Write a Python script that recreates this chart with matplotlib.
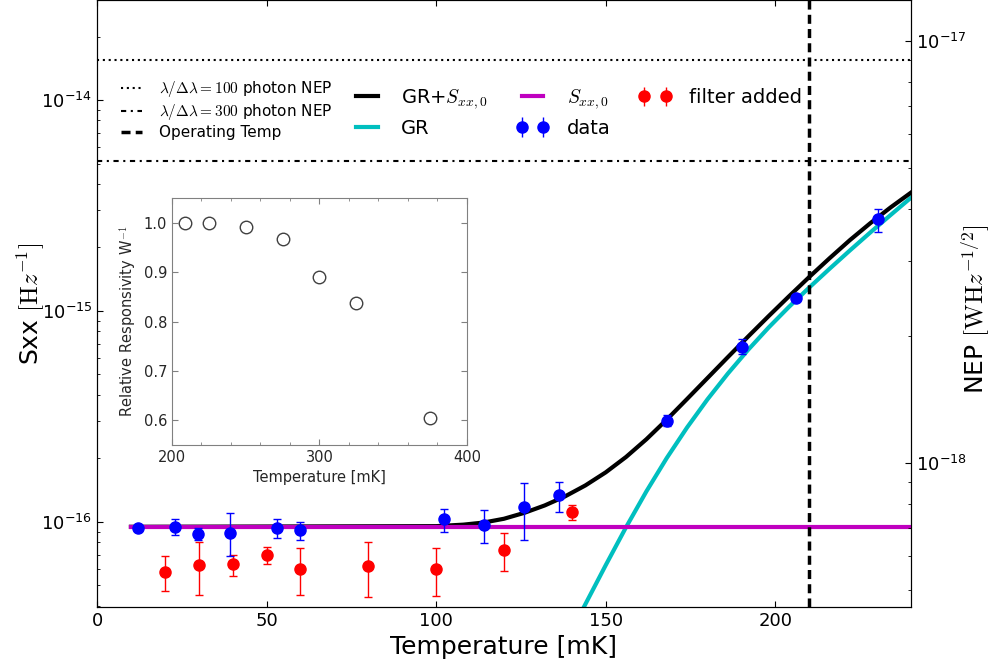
import numpy as np
import matplotlib
matplotlib.use("Agg")
import matplotlib.pyplot as plt
from matplotlib.lines import Line2D

plt.rcParams['mathtext.fontset'] = 'cm'
plt.rcParams['axes.unicode_minus'] = False
plt.rcParams['xtick.direction'] = 'in'
plt.rcParams['ytick.direction'] = 'in'
plt.rcParams['xtick.major.size'] = 4
plt.rcParams['ytick.major.size'] = 4
plt.rcParams['xtick.minor.size'] = 2
plt.rcParams['ytick.minor.size'] = 2

# measured noise, dark (blue) and with filter (red): T [mK], Sxx, lower/upper bounds
data_T = [12.0, 23.1, 29.9, 39.2, 53.1, 59.9, 102.2, 114.2, 126.0, 136.1,
          168.0, 190.2, 206.1, 230.3]
data_S = [9.33e-17, 9.5e-17, 8.8e-17, 8.9e-17, 9.33e-17, 9.16e-17, 1.03e-16,
          9.68e-17, 1.18e-16, 1.34e-16, 3.02e-16, 6.78e-16, 1.153e-15, 2.72e-15]
data_lo = [9.2e-17, 8.65e-17, 8.22e-17, 6.9e-17, 8.37e-17, 8.22e-17, 8.97e-17,
           7.92e-17, 8.22e-17, 1.11e-16, 2.85e-16, 6.25e-16, 1.12e-15, 2.38e-15]
data_hi = [9.45e-17, 1.03e-16, 9.37e-17, 1.1e-16, 1.03e-16, 1.0e-16, 1.156e-16,
           1.135e-16, 1.535e-16, 1.553e-16, 3.21e-16, 7.36e-16, 1.19e-15, 3.05e-15]

filt_T = [20, 30, 40, 50, 60, 80, 100, 120, 140]
filt_S = [5.82e-17, 6.25e-17, 6.3e-17, 6.98e-17, 6.01e-17, 6.21e-17, 6.01e-17,
          7.36e-17, 1.12e-16]
filt_lo = [4.68e-17, 4.51e-17, 5.55e-17, 6.3e-17, 4.48e-17, 4.41e-17, 4.46e-17,
           5.83e-17, 1.02e-16]
filt_hi = [6.92e-17, 8.01e-17, 7.0e-17, 7.64e-17, 7.55e-17, 8.01e-17, 7.55e-17,
           8.87e-17, 1.2e-16]

# model curves, log10(Sxx)
gr_T = [142, 144, 150, 156, 162, 168, 174, 180, 186, 192, 198, 204, 210,
        216, 222, 228, 234, 240]
gr_log = [-16.452, -16.39, -16.205, -16.025, -15.855, -15.697, -15.552, -15.419,
          -15.297, -15.184, -15.079, -14.981, -14.889, -14.800, -14.713, -14.628,
          -14.545, -14.463]
tot_T = [10, 100, 108, 114, 120, 126, 132, 138, 144, 150, 156, 162, 168, 174,
         180, 186, 192, 198, 204, 210, 216, 222, 228, 234, 240]
tot_log = [-16.023, -16.020, -16.013, -16.003, -15.985, -15.957, -15.922,
           -15.879, -15.827, -15.765, -15.692, -15.608, -15.515, -15.417, -15.318,
           -15.219, -15.121, -15.025, -14.931, -14.839, -14.750, -14.664, -14.584,
           -14.509, -14.439]
sxx0_T = [10, 240]
sxx0 = [9.47e-17, 9.47e-17]

T_operating = 210
nep_photon_100 = 9.0e-18
nep_photon_300 = 9.0e-18 / np.sqrt(3)
nep_per_sqrt_sxx = 7.24e-11

# inset: relative responsivity vs temperature
resp_T = [209, 225, 250, 275, 300, 325, 375]
resp = [1.0, 1.0, 0.991, 0.967, 0.890, 0.838, 0.605]

fig = plt.figure(figsize=(9.97, 6.65), dpi=100)
ax = fig.add_axes([0.0973, 0.0872, 0.8164, 0.9128])
ax2 = ax.twinx()

sxx_lim = (3.95e-17, 2.98e-14)
ax.set_xlim(0, 240)
ax.set_yscale('log')
ax.set_ylim(*sxx_lim)
ax2.set_yscale('log')
ax2.set_ylim(nep_per_sqrt_sxx * np.sqrt(sxx_lim[0]), nep_per_sqrt_sxx * np.sqrt(sxx_lim[1]))

ax.plot(gr_T, 10 ** np.array(gr_log), color='c', lw=3, zorder=2)
ax.plot(tot_T, 10 ** np.array(tot_log), color='k', lw=3, zorder=3)
ax.plot(sxx0_T, sxx0, color='m', lw=3, zorder=4)

def errs(s, lo, hi):
    s, lo, hi = map(np.array, (s, lo, hi))
    return [s - lo, hi - s]

ax.errorbar(filt_T, filt_S, yerr=errs(filt_S, filt_lo, filt_hi), fmt='o', color='r',
            ms=8, mec='r', elinewidth=1, capsize=3, zorder=5)
ax.errorbar(data_T, data_S, yerr=errs(data_S, data_lo, data_hi), fmt='o', color='b',
            ms=8, mec='b', elinewidth=1, capsize=3, zorder=6)

ax.axvline(T_operating, color='k', lw=2.5, ls=(0, (2.6, 1.5)), zorder=7)
ax2.axhline(nep_photon_100, color='k', lw=1.5, ls=(0, (1, 1.8)))
ax2.axhline(nep_photon_300, color='k', lw=1.5, ls=(0, (2.5, 2.2, 1, 2.2)))

ax.set_xlabel('Temperature [mK]', fontsize=18)
ax.set_ylabel(r'Sxx $[\mathrm{H}z^{-1}]$', fontsize=18)
ax.yaxis.set_label_coords(-0.062, 0.5)
ax2.set_ylabel(r'NEP $[\mathrm{WH}z^{-1/2}]$', fontsize=18)
ax2.yaxis.set_label_coords(1.06, 0.49)
ax.tick_params(which='both', top=True, labelsize=13)
ax2.tick_params(which='both', labelsize=13)
ax.set_xticks([0, 50, 100, 150, 200])

lines_a = [Line2D([], [], color='k', lw=1.5, ls=(0, (1, 1.8))),
           Line2D([], [], color='k', lw=1.5, ls=(0, (2.5, 2.2, 1, 2.2))),
           Line2D([], [], color='k', lw=2.5, ls=(0, (2.6, 1.5)))]
labels_a = [r'$\lambda/\Delta\lambda=100$ photon NEP',
            r'$\lambda/\Delta\lambda=300$ photon NEP',
            'Operating Temp']
leg_a = ax.legend(lines_a, labels_a, loc='upper left', bbox_to_anchor=(0.012, 0.892),
                  frameon=False, fontsize=11, handlelength=1.4, handletextpad=1.1,
                  labelspacing=0.2)
ax.add_artist(leg_a)

h_tot = Line2D([], [], color='k', lw=3)
h_gr = Line2D([], [], color='c', lw=3)
h_s0 = Line2D([], [], color='m', lw=3)
h_data = ax.errorbar([], [], yerr=[], fmt='o', color='b', ms=8, elinewidth=1, capsize=3)
h_filt = ax.errorbar([], [], yerr=[], fmt='o', color='r', ms=8, elinewidth=1, capsize=3)
ax.legend([h_tot, h_gr, h_s0, h_data, h_filt],
          [r'GR+$S_{xx,0}$', 'GR', r'$S_{xx,0}$', 'data', 'filter added'],
          loc='upper left', bbox_to_anchor=(0.29, 0.885), ncol=3, frameon=False,
          fontsize=14, numpoints=2, handlelength=1.7, handletextpad=0.9,
          columnspacing=1.45, labelspacing=0.4)

# inset
ins = fig.add_axes([0.1725, 0.3308, 0.2959, 0.3714])
ins.plot(resp_T, resp, 'o', mfc='none', mec='0.25', ms=9, mew=1)
ins.set_xlim(200, 400)
ins.set_ylim(0.55, 1.05)
ins.set_xticks([200, 300, 400])
ins.set_xticks(np.arange(220, 400, 20), minor=True)
ins.set_yticks([0.6, 0.7, 0.8, 0.9, 1.0])
ins.tick_params(which='both', top=True, right=True, labelsize=10.5, colors='0.5',
                labelcolor='0.15')
for sp in ins.spines.values():
    sp.set_color('0.5')
ins.set_xlabel('Temperature [mK]', fontsize=10.5, color='0.15')
ins.set_ylabel(r'Relative Responsivity W$^{-1}$', fontsize=10.5, color='0.15')

fig.savefig('out.png', dpi=100)
